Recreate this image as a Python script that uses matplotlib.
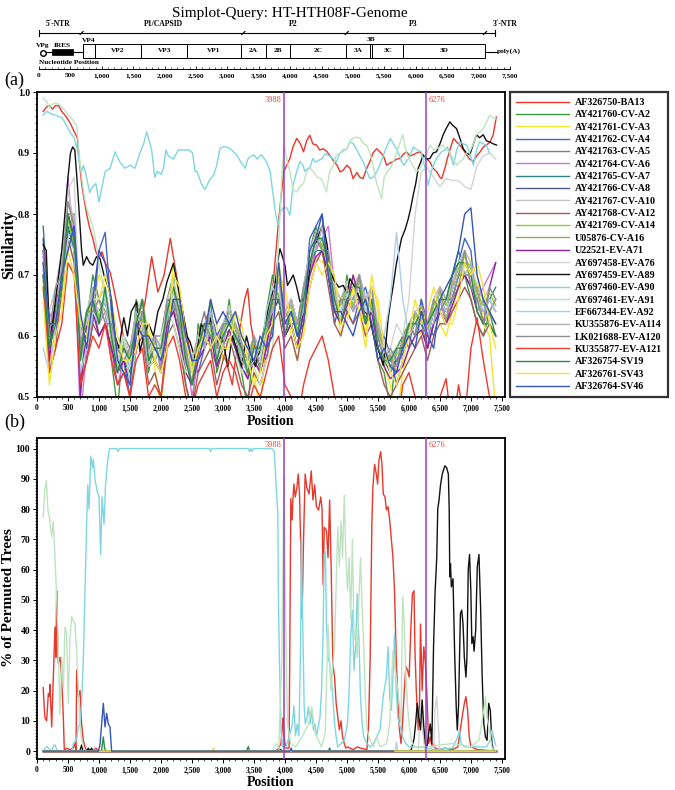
import numpy as np
import matplotlib
matplotlib.use("Agg")
import matplotlib.pyplot as plt
from matplotlib.patches import Rectangle
from matplotlib.ticker import MultipleLocator, FuncFormatter

plt.rcParams['font.family'] = ['Liberation Serif', 'DejaVu Serif']
plt.rcParams['font.weight'] = 'bold'

# ---------------- DATA ----------------
names = ["AF326750-BA13", "AY421760-CV-A2", "AY421761-CV-A3", "AY421762-CV-A4",
         "AY421763-CV-A5", "AY421764-CV-A6", "AY421765-CV-A7", "AY421766-CV-A8",
         "AY421767-CV-A10", "AY421768-CV-A12", "AY421769-CV-A14", "U05876-CV-A16",
         "U22521-EV-A71", "AY697458-EV-A76", "AY697459-EV-A89", "AY697460-EV-A90",
         "AY697461-EV-A91", "EF667344-EV-A92", "KU355876-EV-A114", "LK021688-EV-A120",
         "KU355877-EV-A121", "AF326754-SV19", "AF326761-SV43", "AF326764-SV46"]
colors = ["#E8372B", "#3E9A3E", "#F3E52E", "#4466CC", "#808080", "#CC77DD",
          "#2F8383", "#55558F", "#C4C4C4", "#A35A58", "#88D02A", "#A7A064",
          "#8E1FA0", "#D4D4D4", "#111111", "#7FD6E2", "#BFE3C0", "#AFCDEB",
          "#AFAFB8", "#8F8F8F", "#EE3A2E", "#2F8A45", "#F2E43C", "#3555B8"]

breakpoints = [3988, 6276]

# Similarity values on a 100-nt grid (window midpoints 100..7400)
grid = list(range(100, 7401, 100))
grid_sim = {
"AY421760-CV-A2": [.70,.58,.66,.72,.80,.74,.52,.62,.70,.66, .64,.56,.48,.60,.52,.66,.62,.54,.60,.58,
                   .66,.70,.60,.52,.47,.62,.58,.66,.54,.58, .66,.58,.54,.48,.60,.54,.64,.70,.66,.60,
                   .62,.58,.68,.74,.78,.74,.70,.64,.62,.70, .64,.70,.66,.62,.56,.54,.48,.58,.60,.62,
                   .60,.66,.58,.62,.68,.62,.70,.74,.70,.66, .62,.60,.64,.60],
"AY421761-CV-A3": [.68,.55,.62,.66,.76,.72,.60,.58,.64,.70, .68,.62,.58,.54,.58,.60,.66,.60,.55,.48,
                   .60,.72,.66,.58,.52,.56,.62,.60,.62,.56, .60,.62,.60,.58,.54,.47,.62,.64,.72,.66,
                   .60,.56,.62,.70,.73,.72,.74,.68,.60,.64, .70,.66,.60,.70,.64,.55,.52,.46,.54,.58,
                   .64,.60,.62,.66,.62,.60,.64,.68,.74,.72, .70,.62,.60,.48],
"AY421762-CV-A4": [.74,.62,.60,.68,.77,.78,.62,.56,.62,.74, .77,.64,.54,.56,.50,.60,.62,.58,.56,.54,
                   .62,.64,.66,.58,.56,.54,.58,.64,.60,.62, .64,.62,.58,.56,.56,.58,.56,.62,.70,.60,
                   .66,.62,.64,.76,.78,.80,.70,.62,.66,.64, .62,.66,.68,.64,.58,.60,.57,.52,.56,.62,
                   .60,.66,.62,.60,.64,.66,.70,.72,.76,.74, .64,.66,.62,.60],
"AY421763-CV-A5": [.71,.63,.65,.72,.80,.80,.56,.62,.66,.60, .62,.58,.54,.60,.58,.64,.60,.55,.60,.60,
                   .66,.65,.60,.54,.56,.60,.64,.58,.55,.62, .60,.58,.55,.53,.60,.58,.58,.68,.66,.64,
                   .66,.62,.68,.70,.74,.78,.72,.68,.66,.68, .68,.70,.62,.64,.62,.58,.56,.55,.60,.58,
                   .64,.62,.58,.66,.68,.66,.66,.68,.70,.70, .68,.66,.64,.66],
"AY421764-CV-A6": [.73,.60,.66,.70,.86,.74,.46,.58,.64,.62, .64,.56,.52,.56,.56,.62,.66,.56,.60,.55,
                   .62,.66,.62,.58,.50,.56,.60,.60,.58,.61, .62,.60,.58,.56,.56,.54,.58,.66,.68,.64,
                   .66,.60,.64,.70,.74,.76,.78,.68,.62,.66, .64,.66,.66,.68,.58,.56,.56,.55,.58,.60,
                   .62,.64,.60,.62,.66,.62,.66,.70,.70,.68, .66,.68,.70,.72],
"AY421765-CV-A7": [.78,.62,.62,.70,.78,.74,.58,.62,.66,.64, .66,.60,.58,.56,.54,.62,.64,.58,.56,.58,
                   .62,.66,.64,.56,.52,.60,.58,.62,.58,.62, .62,.60,.56,.55,.56,.56,.60,.64,.66,.60,
                   .62,.58,.64,.72,.74,.74,.70,.66,.64,.66, .66,.66,.63,.64,.60,.56,.54,.56,.58,.60,
                   .62,.62,.60,.64,.66,.64,.66,.70,.70,.68, .66,.64,.66,.68],
"AY421766-CV-A8": [.72,.58,.64,.70,.76,.76,.58,.60,.66,.62, .66,.60,.56,.58,.55,.62,.64,.57,.58,.56,
                   .64,.68,.62,.56,.54,.58,.60,.62,.57,.60, .63,.60,.57,.55,.58,.56,.60,.66,.66,.62,
                   .64,.60,.66,.72,.75,.76,.72,.66,.64,.67, .66,.68,.64,.66,.60,.57,.55,.56,.57,.60,
                   .62,.63,.60,.64,.66,.64,.67,.70,.72,.70, .66,.64,.66,.64],
"AY421767-CV-A10": [.70,.64,.68,.74,.84,.78,.60,.64,.68,.66, .68,.62,.58,.60,.57,.64,.66,.59,.60,.58,
                    .66,.69,.65,.58,.56,.60,.62,.64,.59,.62, .65,.62,.59,.57,.60,.58,.62,.68,.70,.64,
                    .66,.62,.68,.74,.77,.78,.74,.68,.66,.69, .68,.70,.66,.68,.62,.59,.57,.58,.59,.62,
                    .64,.65,.62,.66,.68,.66,.69,.72,.74,.72, .68,.66,.68,.66],
"AY421768-CV-A12": [.70,.54,.58,.68,.76,.72,.52,.56,.62,.60, .62,.58,.52,.54,.50,.58,.60,.52,.54,.50,
                    .60,.62,.58,.52,.48,.54,.56,.58,.52,.56, .60,.56,.52,.50,.54,.52,.56,.62,.64,.58,
                    .60,.56,.62,.68,.72,.74,.68,.62,.60,.64, .62,.64,.60,.62,.56,.52,.50,.52,.54,.56,
                    .58,.60,.56,.60,.62,.62,.64,.66,.68,.66, .62,.60,.62,.60],
"AY421769-CV-A14": [.69,.61,.63,.71,.79,.75,.57,.62,.67,.63, .67,.59,.55,.59,.56,.63,.63,.56,.59,.57,
                    .65,.66,.62,.57,.55,.59,.61,.61,.56,.61, .64,.61,.56,.56,.59,.57,.61,.65,.67,.63,
                    .65,.61,.65,.71,.76,.75,.71,.67,.65,.68, .65,.69,.65,.65,.61,.58,.56,.57,.58,.61,
                    .63,.64,.61,.65,.67,.65,.68,.71,.73,.71, .67,.65,.67,.65],
"U05876-CV-A16": [.74,.62,.66,.72,.82,.78,.60,.58,.64,.66, .64,.62,.58,.56,.57,.60,.66,.59,.56,.58,
                  .62,.65,.65,.58,.52,.60,.62,.60,.59,.58, .61,.62,.59,.53,.56,.58,.62,.64,.70,.64,
                  .62,.62,.64,.70,.77,.74,.74,.64,.66,.65, .68,.66,.66,.64,.62,.55,.57,.54,.59,.62,
                  .60,.65,.62,.62,.68,.62,.69,.68,.74,.68, .68,.62,.64,.66],
"U22521-EV-A71": [.76,.56,.66,.68,.80,.76,.50,.62,.64,.60, .62,.58,.54,.56,.52,.60,.62,.55,.56,.54,
                  .62,.64,.60,.54,.52,.56,.58,.60,.55,.58, .61,.58,.55,.53,.56,.54,.58,.64,.66,.60,
                  .62,.58,.64,.70,.73,.74,.70,.64,.62,.65, .70,.66,.62,.64,.58,.55,.53,.54,.55,.58,
                  .60,.61,.58,.62,.64,.62,.65,.68,.70,.68, .64,.62,.68,.72],
"AY697458-EV-A76": [.72,.62,.66,.72,.84,.86,.60,.62,.66,.64, .64,.60,.56,.60,.55,.62,.64,.57,.60,.56,
                    .66,.67,.63,.58,.54,.58,.62,.62,.57,.60, .63,.60,.57,.55,.58,.56,.62,.66,.68,.62,
                    .64,.60,.66,.72,.75,.76,.72,.66,.64,.67, .66,.68,.64,.66,.60,.57,.58,.62,.60,.66,
                    .80,.87,.875,.86,.845,.858,.855,.855,.845,.84, .88,.895,.90,.89],
"EF667344-EV-A92": [.58,.54,.62,.68,.76,.74,.54,.58,.64,.62, .66,.60,.56,.58,.55,.62,.64,.57,.58,.56,
                    .64,.67,.63,.56,.54,.58,.60,.62,.57,.60, .63,.60,.57,.55,.58,.56,.64,.68,.66,.62,
                    .64,.60,.66,.72,.75,.76,.72,.66,.64,.67, .66,.68,.64,.66,.62,.60,.66,.77,.66,.60,
                    .62,.63,.60,.64,.66,.64,.67,.70,.72,.70, .66,.64,.66,.64],
"KU355876-EV-A114": [.70,.62,.62,.72,.80,.80,.56,.60,.68,.62, .64,.62,.54,.58,.57,.64,.62,.55,.60,.58,
                     .63,.68,.62,.55,.56,.60,.58,.64,.58,.58, .64,.62,.56,.54,.56,.58,.62,.64,.70,.60,
                     .66,.62,.64,.74,.74,.78,.70,.68,.62,.68, .64,.70,.66,.64,.62,.58,.54,.58,.56,.62,
                     .64,.62,.62,.62,.68,.66,.68,.72,.70,.72, .64,.66,.64,.62],
"LK021688-EV-A120": [.74,.60,.68,.70,.82,.78,.58,.64,.64,.66, .62,.62,.58,.56,.58,.60,.64,.58,.60,.54,
                     .66,.66,.62,.58,.52,.58,.62,.60,.58,.62, .62,.60,.58,.56,.60,.54,.60,.66,.70,.62,
                     .62,.62,.68,.72,.76,.74,.74,.64,.66,.66, .66,.70,.62,.68,.60,.56,.58,.56,.58,.62,
                     .60,.64,.62,.66,.64,.66,.66,.70,.74,.68, .66,.62,.68,.66],
"KU355877-EV-A121": [.68,.54,.58,.62,.72,.70,.52,.56,.60,.58, .62,.56,.52,.54,.50,.56,.58,.50,.52,.50,
                     .58,.60,.56,.50,.48,.52,.54,.56,.50,.54, .56,.54,.50,.48,.52,.50,.54,.58,.60,.52,
                     .50,.46,.52,.56,.58,.60,.56,.50,.46,.48, .46,.44,.42,.44,.40,.42,.40,.44,.52,.54,
                     .50,.46,.44,.42,.50,.53,.44,.52,.46,.58, .63,.56,.50,.46],
"AF326754-SV19": [.70,.58,.62,.68,.80,.76,.56,.64,.66,.62, .68,.60,.54,.58,.56,.62,.66,.56,.58,.58,
                  .64,.68,.64,.56,.52,.58,.62,.62,.56,.60, .62,.60,.58,.54,.58,.58,.62,.66,.66,.60,
                  .64,.60,.66,.72,.76,.76,.72,.66,.62,.66, .68,.68,.62,.66,.58,.56,.56,.58,.58,.62,
                  .62,.64,.62,.64,.66,.66,.70,.72,.72,.70, .64,.62,.62,.60],
"AF326761-SV43": [.66,.52,.60,.64,.74,.70,.62,.60,.66,.66, .70,.66,.60,.56,.56,.58,.62,.62,.56,.54,
                  .58,.70,.68,.60,.54,.58,.60,.58,.60,.58, .58,.64,.62,.56,.52,.54,.60,.62,.70,.68,
                  .62,.58,.60,.68,.72,.70,.72,.70,.62,.62, .68,.64,.58,.68,.66,.58,.54,.52,.56,.60,
                  .66,.62,.64,.68,.64,.62,.62,.66,.72,.70, .72,.68,.62,.58],
"AF326764-SV46": [.72,.62,.62,.70,.74,.78,.64,.58,.66,.74, .72,.66,.56,.54,.52,.62,.60,.60,.58,.56,
                  .60,.66,.66,.60,.56,.56,.60,.66,.62,.64, .62,.64,.60,.58,.56,.60,.58,.60,.72,.62,
                  .64,.60,.62,.74,.76,.80,.70,.64,.64,.62, .60,.64,.66,.62,.56,.58,.55,.54,.58,.60,
                  .58,.64,.60,.58,.66,.68,.70,.74,.80,.81, .70,.66,.64,.62],
}

# Similarity of the four most distinct references: (position, similarity) points
ba13_a = [(100,.968),(150,.975),(200,.978),(250,.972),(300,.978),(350,.977),(400,.968),(450,.962),
          (500,.955),(550,.946),(600,.935),(650,.925),(690,.88),(720,.85),(750,.83),(800,.80),
          (850,.777),(900,.76),(950,.738),(1000,.728),(1050,.738),(1100,.72),(1180,.705),
          (1250,.672),(1350,.62),(1450,.574),(1550,.55),(1650,.60),(1750,.66),(1850,.73),(1950,.672),
          (2050,.70),(2150,.76),(2250,.70),(2350,.64),(2450,.585),(2550,.536),(2650,.60),(2750,.634),
          (2850,.62),(2950,.574),(3050,.56),(3150,.52),(3250,.60),(3350,.66),(3400,.678),(3450,.62),
          (3550,.558),(3650,.55),(3750,.62),(3850,.733),(3900,.792),(3950,.84),(3980,.869),
          (4030,.88),(4080,.891),(4130,.91),(4190,.924),(4250,.915),(4300,.902),(4350,.92),(4400,.929),
          (4450,.915),(4510,.913),(4560,.905),(4620,.907),(4680,.902),(4730,.895),(4790,.886),
          (4840,.88),(4890,.869),(4940,.872),(5000,.88),(5050,.875),(5100,.858),(5160,.868),
          (5210,.86),(5260,.858),(5320,.875),(5370,.886),(5420,.90),(5480,.907),(5530,.902),
          (5590,.895),(5640,.88),(5700,.884),(5750,.886),(5800,.89),(5860,.891),(5910,.898),
          (5960,.902),(6020,.895),(6070,.897),(6120,.90),(6180,.902),(6230,.895),(6280,.891),
          (6340,.885),(6390,.875),(6450,.869),(6500,.86),(6530,.858),(6580,.875),(6620,.891),
          (6660,.905),(6720,.924),(6770,.918),(6820,.913),(6880,.905),(6930,.897),(6980,.89),
          (7040,.886),(7090,.895),(7150,.902),(7200,.91),(7250,.913),(7310,.918),(7360,.93),(7410,.959)]

a90_a = [(100,.962),(150,.968),(200,.966),(250,.963),(300,.962),(350,.96),(400,.958),(450,.95),
         (500,.94),(550,.932),(600,.925),(650,.905),(690,.88),(720,.87),(750,.88),(800,.86),
         (850,.835),(900,.845),(950,.85),(1000,.82),(1050,.845),(1100,.87),(1180,.875),(1260,.902),
         (1340,.885),(1420,.875),(1500,.88),(1580,.875),(1660,.90),(1720,.915),(1770,.935),
         (1810,.92),(1850,.905),(1900,.86),(1940,.87),(2000,.865),(2040,.875),(2080,.905),
         (2120,.895),(2200,.89),(2280,.905),(2360,.905),(2450,.905),(2510,.90),(2550,.87),
         (2580,.87),(2650,.85),(2710,.84),(2780,.855),(2850,.864),(2900,.88),(2950,.907),
         (3000,.91),(3060,.91),(3140,.905),(3220,.897),(3290,.885),(3360,.875),(3400,.89),
         (3440,.894),(3500,.897),(3550,.89),(3620,.897),(3700,.886),(3760,.87),(3810,.831),
         (3850,.80),(3890,.782),(3930,.804),(3970,.81),(4030,.81),(4080,.798),(4130,.847),
         (4190,.87),(4240,.886),(4290,.88),(4320,.87),(4370,.875),(4400,.875),(4450,.891),
         (4490,.885),(4540,.888),(4590,.89),(4650,.899),(4720,.895),(4780,.89),(4830,.885),
         (4880,.899),(4940,.905),(5000,.907),(5050,.918),(5100,.916),(5160,.905),(5210,.895),
         (5260,.886),(5320,.87),(5370,.858),(5420,.86),(5480,.869),(5530,.88),(5590,.897),
         (5640,.91),(5700,.924),(5750,.915),(5800,.907),(5850,.895),(5880,.886),(5920,.88),
         (5960,.886),(6020,.895),(6070,.91),(6130,.905),(6200,.902),(6260,.875),(6310,.847),
         (6360,.87),(6420,.886),(6470,.895),(6530,.902),(6580,.905),(6620,.91),(6660,.898),
         (6720,.88),(6770,.905),(6820,.918),(6880,.915),(6930,.913),(6980,.90),(7040,.88),
         (7090,.905),(7140,.918),(7200,.915),(7250,.913),(7300,.90)]

a91_a = [(100,.99),(150,.985),(200,.975),(250,.98),(300,.982),(350,.98),(400,.975),(450,.97),
         (500,.962),(550,.958),(600,.95),(640,.945),(680,.90),(720,.86),(760,.83),(800,.81),
         (850,.795),(900,.78),(960,.749),(1000,.72),(1100,.66),(1200,.62),(1300,.55),(1400,.60),
         (1500,.52),(1600,.58),(1700,.62),(1800,.55),(1900,.56),(2000,.60),(2100,.64),(2200,.62),
         (2300,.58),(2400,.54),(2500,.56),(2600,.60),(2700,.58),(2800,.62),(2900,.56),(3000,.58),
         (3100,.60),(3200,.57),(3300,.54),(3400,.56),(3500,.55),(3600,.52),(3700,.56),(3800,.58),
         (3850,.66),(3900,.76),(3960,.88),(3990,.91),(4030,.89),(4080,.87),(4130,.84),(4190,.836),
         (4240,.845),(4300,.85),(4350,.87),(4400,.875),(4460,.87),(4520,.86),(4580,.858),
         (4620,.85),(4670,.836),(4720,.869),(4780,.88),(4830,.897),(4890,.90),(4940,.902),
         (5000,.907),(5050,.92),(5100,.924),(5160,.926),(5210,.924),(5270,.915),(5320,.913),
         (5370,.90),(5420,.88),(5480,.85),(5530,.835),(5560,.825),(5600,.86),(5650,.869),
         (5700,.875),(5750,.886),(5800,.90),(5850,.915),(5900,.93),(5960,.90),(6000,.891),
         (6060,.88),(6120,.869),(6180,.875),(6230,.886),(6290,.90),(6340,.913),(6400,.905),
         (6450,.907),(6500,.91),(6550,.913),(6600,.905),(6660,.902),(6710,.89),(6770,.88),
         (6820,.885),(6880,.891),(6930,.90),(6980,.902),(7040,.915),(7090,.93),(7150,.935),
         (7200,.94),(7250,.95),(7300,.962),(7350,.958),(7400,.956)]

a89_a = [(100,.75),(150,.74),(200,.60),(250,.62),(300,.66),(350,.70),(400,.74),(450,.80),(500,.86),
         (540,.90),(575,.91),(610,.905),(650,.85),(694,.78),(720,.74),(747,.716),(800,.73),
         (850,.72),(900,.716),(960,.73),(1016,.727),(1080,.70),(1150,.68),(1200,.66),(1260,.60),
         (1320,.58),(1400,.63),(1460,.60),(1520,.64),(1607,.656),(1660,.574),(1720,.60),(1800,.62),
         (1880,.60),(1950,.64),(2030,.66),(2100,.69),(2200,.719),(2270,.683),(2350,.64),(2420,.60),
         (2470,.59),(2560,.56),(2650,.62),(2740,.60),(2800,.63),(2880,.58),(2950,.60),(3005,.59),
         (3080,.55),(3150,.60),(3220,.58),(3300,.55),(3380,.60),(3450,.57),(3520,.55),(3600,.58),
         (3680,.62),(3760,.66),(3840,.683),(3880,.72),(3920,.743),(3960,.73),(4000,.716),
         (4040,.683),(4080,.69),(4134,.70),(4190,.68),(4242,.656),(4300,.66),(4350,.67),(4410,.72),
         (4460,.74),(4510,.754),(4560,.77),(4618,.782),(4680,.75),(4730,.705),(4800,.69),
         (4870,.68),(4940,.683),(5000,.67),(5048,.694),(5130,.68),(5210,.661),(5290,.64),
         (5370,.629),(5430,.60),(5478,.585),(5530,.57),(5585,.552),(5630,.59),(5666,.629),
         (5710,.66),(5747,.683),(5800,.72),(5850,.745),(5881,.76),(5940,.775),(5989,.792),
         (6030,.81),(6069,.831),(6110,.85),(6150,.875),(6190,.885),(6230,.897),(6280,.89),
         (6338,.891),(6390,.90),(6445,.902),(6500,.915),(6553,.93),(6600,.94),(6660,.951),
         (6710,.945),(6768,.94),(6820,.925),(6876,.907),(6930,.90),(6983,.897),(7040,.915),
         (7091,.93),(7140,.925),(7198,.93),(7250,.92),(7306,.918),(7360,.915),(7413,.913)]

# % of permuted trees: (position, percent) points for references that reach above zero
a91_b = [(100,77.5),(125,86),(150,89.5),(175,80),(210,76),(237,70.8),(263,76),(290,64),(317,51),
         (344,33),(371,12),(398,31),(425,21),(452,41),(478,39),(505,15.8),(532,37.8),(559,44.4),
         (590,43),(613,42),(640,33),(667,20),(694,9),(720,4),(747,1.4),(780,0),(3800,0),(3857,2.5),
         (3900,1),(3950,30),(3983,90.5),(4000,60),(4040,9),(4093,2.5),(4171,1.4),(4276,4.7),
         (4380,9),(4433,14.7),(4485,6),(4590,1.4),(4650,6),(4695,42),(4740,20),(4800,35),(4852,74),
         (4878,61),(4904,76),(4930,64),(4957,84.6),(4983,64),(5009,53),(5035,64),(5061,44),
         (5088,70),(5114,36.7),(5140,40),(5166,31),(5192,50),(5219,64),(5245,47.7),(5271,34.5),
         (5297,18),(5323,7),(5375,3.6),(5428,1.4),(5480,4.7),(5533,1.4),(5640,2.5),(5690,9),
         (5716,22),(5742,33),(5768,28),(5795,24.5),(5821,20),(5847,14.7),(5873,9),(5899,51),
         (5925,42),(5951,24.5),(5978,14.7),(6004,9),(6030,4.7),(6056,2.5),(6100,1.4),(6300,1.4),
         (6500,2),(6700,2.5),(7000,1.4),(7130,3.6),(7156,7),(7208,13.5),(7235,18),(7261,11),
         (7313,4.7),(7339,1.4),(7400,0)]

a90_b = [(100,0),(130,1),(160,1.5),(183,1),(240,0),(270,2),(290,2),(310,1),(340,0),(560,0),
         (586,2.5),(640,4),(667,8),(694,9),(720,15.8),(747,30),(774,53),(801,75),(819,88),(840,80),
         (868,97.5),(896,93.7),(910,96.4),(938,89.4),(970,86),(1000,84),(1027,65),(1050,84),
         (1081,75),(1106,88),(1134,95),(1169,100),(1290,100),(1309,99),(1330,100),(2780,100),
         (2800,99),(2820,100),(3410,100),(3430,99),(3450,100),(3470,99),(3490,100),(3790,100),
         (3829,99),(3857,88),(3885,78.6),(3895,50),(3910,31),(3936,7),(3962,1.4),(4014,1.4),
         (4067,4.7),(4119,9),(4145,15),(4171,5),(4198,9),(4224,5),(4250,31),(4266,70),(4276,54),
         (4292,36.7),(4310,14.7),(4328,9),(4354,11),(4380,14.7),(4406,9),(4433,13.5),(4459,7),
         (4485,9),(4511,5),(4538,8),(4564,11),(4590,20),(4616,38.9),(4632,65),(4653,66),(4669,42),
         (4695,31),(4721,29),(4747,24.5),(4773,18),(4800,9),(4826,4.7),(4852,1.4),(4904,2.5),
         (4957,3.6),(5009,9),(5035,20),(5061,37.8),(5088,46.6),(5114,26.8),(5140,34.5),(5166,52),
         (5192,37.8),(5219,18),(5245,9),(5271,4.7),(5323,2.5),(5375,1.4),(5428,2.5),(5480,4.7),
         (5533,7),(5585,18),(5637,24.5),(5664,34.5),(5690,18),(5716,13.5),(5742,24.5),(5768,38.9),
         (5795,20),(5821,11),(5847,9),(5900,4.7),(5950,2.5),(6004,1.4),(6200,1.4),(6400,0.5),
         (6700,1),(6790,4.7),(6816,7),(6842,2.5),(6900,1.4),(7250,1.4),(7313,3.6),(7339,7),
         (7366,4.7),(7400,2)]

ba13_b = [(100,21),(115,15),(129,11),(156,10),(183,19),(200,18),(210,22),(237,8),(263,24.5),
          (290,41),(306,31),(317,53),(330,40),(344,29),(371,31),(398,24.5),(425,11),(441,0),
          (478,1),(530,0.5),(586,1),(613,2.5),(630,0),(640,26.8),(667,18),(694,20),(720,9),
          (747,3.6),(774,1.4),(800,0),(828,0.5),(900,0),(950,1),(1000,0),(3850,0),(3900,1),
          (3936,2.5),(3962,9),(3972,11),(3990,4),(4014,1),(4067,1),(4080,40),(4095,83.5),
          (4116,76.4),(4129,83.5),(4144,88.3),(4165,84),(4193,87),(4214,91.6),(4235,85),(4250,72),
          (4265,58.7),(4276,44),(4300,70),(4326,91.6),(4354,87),(4389,85),(4424,92.6),(4452,83),
          (4480,88),(4508,80.8),(4543,79.7),(4578,84),(4599,80),(4616,55),(4634,74),(4669,73),
          (4695,64),(4721,83),(4747,59),(4773,29),(4800,24.5),(4826,15.8),(4852,11.3),(4878,7),
          (4904,10),(4930,4.7),(4957,2.5),(4983,1),(5009,1.4),(5100,0.5),(5166,1.4),(5219,1),
          (5323,0.5),(5349,9),(5375,31),(5402,75),(5418,87),(5446,94.8),(5474,91.6),(5495,88.3),
          (5516,96),(5544,99),(5565,94.8),(5586,85),(5614,84),(5637,79.7),(5663,80.8),(5690,76.4),
          (5716,70),(5742,64),(5768,53),(5795,31),(5821,18),(5847,7),(5873,2.5),(5899,10),
          (5925,20),(5951,28),(5978,26.8),(6004,24.5),(6030,40),(6056,52),(6082,53),(6098,33),
          (6119,20),(6150,7),(6171,15.8),(6187,42),(6213,20),(6240,34.5),(6266,29),(6292,18),
          (6318,2.5),(6344,4.7),(6370,1.4),(6397,2.5),(6423,1),(6500,0.5),(6580,1),(6700,0.5),
          (6790,1.4),(6842,9),(6894,15.8),(6920,18),(6947,13.5),(6973,4.7),(7000,1.4),(7051,1),
          (7103,0.5),(7400,0)]

a89_b = [(100,0),(690,0),(720,2),(740,0),(800,0),(828,1),(850,0),(881,1),(900,0),(3900,0),
         (3930,0.5),(3960,0),(6030,0),(6082,4),(6108,9),(6134,15.8),(6161,11),(6187,7),(6213,16.9),
         (6240,8),(6266,2.5),(6292,1.4),(6318,5.8),(6344,9),(6370,2.5),(6397,34.5),(6423,53),
         (6449,64),(6465,80),(6486,83),(6510,88),(6538,91.6),(6560,93),(6580,94.3),(6608,93.7),
         (6636,91.6),(6650,80),(6659,57.6),(6670,62),(6685,54.3),(6711,57),(6737,33),(6763,14.7),
         (6780,7),(6800,14.7),(6831,45.5),(6852,46.6),(6873,42),(6894,31),(6920,24.5),(6936,31),
         (6957,60),(6978,65),(6999,53),(7015,35.6),(7036,37.8),(7051,33),(7077,40),(7103,61),
         (7130,65),(7156,47.7),(7182,24.5),(7208,9),(7235,4.7),(7261,3.6),(7287,15.8),(7313,13.5),
         (7339,2.5),(7366,0.5),(7400,0)]

a76_b = [(100,0),(6150,0),(6180,12),(6200,17),(6230,5),(6260,0),(6400,0),(6423,14.7),(6449,18),
         (6475,8),(6500,0),(7400,0)]
a92_b = [(100,0),(5780,0),(5800,3),(5820,0),(7400,0)]
sv19_b = [(100,0),(1040,0),(1070,4.7),(1090,1),(1110,0),(3380,0),(3409,1.5),(3430,0),(4700,0),
          (4721,1),(4740,0),(7400,0)]
sv43_b = [(100,0),(2830,0),(2850,1.2),(2870,0),(7400,0)]
sv46_b = [(100,0),(990,0),(1016,2),(1043,9),(1070,15.8),(1097,8),(1124,12.5),(1150,9),(1177,8),
          (1204,0),(4080,0),(4100,1),(4120,0),(5750,0)]

# genome map
map_bounds = [695, 887, 1631, 2358, 3213, 3622, 4000, 4887, 5270, 5310, 5800, 7102]
map_labels = ["", "VP2", "VP3", "VP1", "2A", "2B", "2C", "3A", "", "3C", "3D"]
region_names = ["5\u00b4-NTR", "P1/CAPSID", "P2", "P3", "3\u00b4-NTR"]
region_pos = [307, 1980, 4050, 5960, 7420]
region_seps = [679, 3254, 4900, 7102]
ires_span = (202, 547)
polya_end = 7287

# ---------------- FIGURE ----------------
W, H = 675, 790
fig = plt.figure(figsize=(W / 100, H / 100), dpi=100)


def fr(l, t, r, b):
    return [l / W, 1 - b / H, (r - l) / W, (b - t) / H]


def unzip(pairs):
    return [p[0] for p in pairs], [p[1] for p in pairs]


thou = FuncFormatter(lambda v, p: f"{int(round(v)):,}")

# ---- genome map ----
axm = fig.add_axes(fr(39, 18, 510, 69))
axm.set_xlim(0, 7500)
axm.set_ylim(0, 51)
axm.patch.set_alpha(0)
for s in ["top", "right", "left"]:
    axm.spines[s].set_visible(False)
axm.spines["bottom"].set_linewidth(0.7)
axm.set_yticks([])
axm.xaxis.set_major_locator(MultipleLocator(500))
axm.xaxis.set_minor_locator(MultipleLocator(100))
axm.xaxis.set_major_formatter(thou)
axm.tick_params(axis="x", which="major", direction="in", length=2.5, width=0.6, labelsize=5.3, pad=3)
axm.tick_params(axis="x", which="minor", direction="in", length=1.3, width=0.5)

axm.plot([0, polya_end - 25], [36, 36], color="black", lw=0.8, clip_on=False)
axm.plot([0, 0], [33, 39], color="black", lw=0.8, clip_on=False)
axm.plot([7262, 7262], [33, 39], color="black", lw=0.8, clip_on=False)
for sx in region_seps:
    axm.plot([sx - 25, sx + 25], [34.5, 37.5], color="black", lw=0.8, clip_on=False)
for nm, px in zip(region_names, region_pos):
    axm.text(px, 45, nm, ha="center", va="center", fontsize=5.5, clip_on=False)

for x0, x1, lab in zip(map_bounds[:-1], map_bounds[1:], map_labels):
    axm.add_patch(Rectangle((x0, 11), x1 - x0, 14, facecolor="white", edgecolor="black", lw=0.7))
    if lab:
        axm.text((x0 + x1) / 2, 18, lab, ha="center", va="center", fontsize=5.2)
axm.text((map_bounds[0] + map_bounds[1]) / 2, 28.5, "VP4", ha="center", va="center", fontsize=5.3)
axm.text((map_bounds[8] + map_bounds[9]) / 2, 29.5, "3B", ha="center", va="center", fontsize=5.3)
axm.plot([60, map_bounds[0]], [17.5, 17.5], color="black", lw=0.8)
axm.add_patch(Rectangle((ires_span[0], 14.5), ires_span[1] - ires_span[0], 6, facecolor="black",
                        edgecolor="black", lw=0.5))
axm.plot([60], [16.5], marker="o", ms=4, mfc="white", mec="black", mew=1.0, clip_on=False)
axm.text(55, 23, "VPg", ha="center", va="center", fontsize=5.3, clip_on=False)
axm.text(375, 23.5, "IRES", ha="center", va="center", fontsize=5.3)
axm.plot([map_bounds[-1], polya_end], [17.5, 17.5], color="black", lw=0.8)
axm.text(polya_end + 10, 17.5, "poly(A)", ha="left", va="center", fontsize=5.3, clip_on=False)
axm.text(0, 6, "Nucleotide Position", ha="left", va="center", fontsize=5.2)

fig.text(290 / W, 1 - 14 / H, "Simplot-Query: HT-HTH08F-Genome", ha="center", va="center",
         fontsize=11, fontweight="normal")
fig.text(4 / W, 1 - 80 / H, "(a)", ha="left", va="center", fontsize=13, fontweight="normal")
fig.text(4 / W, 1 - 422 / H, "(b)", ha="left", va="center", fontsize=13, fontweight="normal")


def style_axis(ax):
    for s in ax.spines.values():
        s.set_linewidth(1.3)
    ax.xaxis.set_major_locator(MultipleLocator(500))
    ax.xaxis.set_minor_locator(MultipleLocator(100))
    ax.xaxis.set_major_formatter(thou)
    ax.tick_params(axis="x", which="major", direction="out", length=3, width=0.7, labelsize=5.5, pad=2)
    ax.tick_params(axis="x", which="minor", direction="out", length=1.5, width=0.5)
    ax.tick_params(axis="y", which="major", direction="out", length=3, width=0.7, labelsize=7, pad=2)
    ax.tick_params(axis="y", which="minor", direction="out", length=1.5, width=0.5)


# ---- panel (a) ----
axa = fig.add_axes(fr(37, 92, 505, 397))
series_a = {}
for nm in names:
    if nm in grid_sim:
        series_a[nm] = (grid, grid_sim[nm])
series_a["AF326750-BA13"] = unzip(ba13_a)
series_a["AY697460-EV-A90"] = unzip(a90_a)
series_a["AY697461-EV-A91"] = unzip(a91_a)
series_a["AY697459-EV-A89"] = unzip(a89_a)

handles = []
for nm, col in zip(names, colors):
    xs, ys = series_a[nm]
    ln, = axa.plot(xs, ys, color=col, lw=1.0, label=nm)
    handles.append(ln)
axa.set_xlim(0, 7550)
axa.set_ylim(0.5, 1.0)
axa.yaxis.set_major_locator(MultipleLocator(0.1))
axa.yaxis.set_minor_locator(MultipleLocator(0.01))
axa.yaxis.set_major_formatter(FuncFormatter(lambda v, p: f"{v:.1f}"))
style_axis(axa)
for bp in breakpoints:
    axa.axvline(bp, color="#9B3FC6", lw=1.1, zorder=50)
axa.text(breakpoints[0] - 40, 0.987, str(breakpoints[0]), ha="right", va="center", color="#E04A40",
         fontsize=6, fontweight="normal")
axa.text(breakpoints[1] + 40, 0.987, str(breakpoints[1]), ha="left", va="center", color="#E04A40",
         fontsize=6, fontweight="normal")
fig.text(9 / W, 1 - 245 / H, "Similarity", rotation=90, ha="center", va="center", fontsize=11.5)
fig.text(271 / W, 1 - 422 / H, "Position", ha="center", va="center", fontsize=10)

leg = fig.legend(handles, names, loc="upper left", bbox_to_anchor=(510 / W, 1 - 92 / H),
                 borderaxespad=0, frameon=True, fancybox=False, edgecolor="#333333", framealpha=1,
                 prop={"size": 7.2, "weight": "bold"}, labelspacing=0.335, handlelength=5.3,
                 handletextpad=0.6, borderpad=0.6)
leg.get_frame().set_linewidth(1.6)

# ---- panel (b) ----
axb = fig.add_axes(fr(37, 438, 505, 759))
series_b = {
    "AF326750-BA13": unzip(ba13_b),
    "AY697460-EV-A90": unzip(a90_b),
    "AY697461-EV-A91": unzip(a91_b),
    "AY697459-EV-A89": unzip(a89_b),
    "AY697458-EV-A76": unzip(a76_b),
    "EF667344-EV-A92": unzip(a92_b),
    "AF326754-SV19": unzip(sv19_b),
    "AF326761-SV43": unzip(sv43_b),
    "AF326764-SV46": unzip(sv46_b),
}
for nm, col in zip(names, colors):
    if nm in series_b:
        xs, ys = series_b[nm]
    else:
        xs, ys = [100, 7400], [0, 0]
    axb.plot(xs, ys, color=col, lw=1.0)
axb.set_xlim(0, 7550)
axb.set_ylim(-2.6, 103.5)
axb.yaxis.set_major_locator(MultipleLocator(10))
axb.yaxis.set_minor_locator(MultipleLocator(1))
style_axis(axb)
for bp in breakpoints:
    axb.axvline(bp, color="#9B3FC6", lw=1.1, zorder=50)
axb.text(breakpoints[0] - 40, 101.3, str(breakpoints[0]), ha="right", va="center", color="#E04A40",
         fontsize=6, fontweight="normal")
axb.text(breakpoints[1] + 40, 101.3, str(breakpoints[1]), ha="left", va="center", color="#E04A40",
         fontsize=6, fontweight="normal")
fig.text(9 / W, 1 - 598 / H, "% of Permuted Trees", rotation=90, ha="center", va="center", fontsize=11)
fig.text(271 / W, 1 - 783 / H, "Position", ha="center", va="center", fontsize=10)

fig.savefig("out.png", dpi=100)
